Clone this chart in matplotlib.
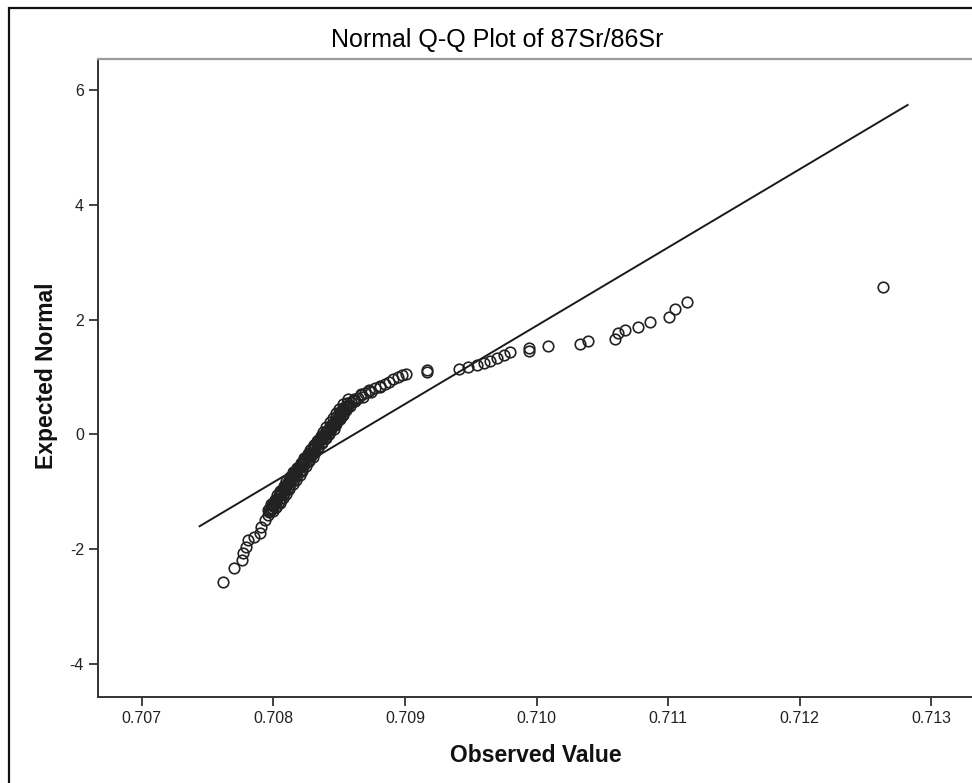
import numpy as np
import matplotlib
matplotlib.use("Agg")
import matplotlib.pyplot as plt
from matplotlib.patches import Rectangle

plt.rcParams['font.family'] = ['Liberation Sans', 'DejaVu Sans']
plt.rcParams['axes.unicode_minus'] = False

# observed 87Sr/86Sr values and their expected normal scores
obs_low = [0.70762, 0.70770, 0.70776, 0.70777, 0.70779, 0.70781, 0.70785,
           0.70790, 0.70791, 0.70794, 0.70796]
exp_low = [-2.57, -2.32, -2.19, -2.07, -1.96, -1.84, -1.78,
           -1.72, -1.61, -1.49, -1.40]

obs_mid = [0.70797, 0.70798, 0.70799, 0.70800, 0.70801, 0.70802, 0.70803,
           0.70804, 0.70805, 0.70806, 0.70808, 0.70809, 0.70810, 0.70811,
           0.70813, 0.70814, 0.70815, 0.70816, 0.70818, 0.70819, 0.70820,
           0.70822, 0.70823, 0.70824, 0.70826, 0.70827, 0.70828, 0.70830,
           0.70831, 0.70832, 0.70834, 0.70835, 0.70837, 0.70838, 0.70839,
           0.70841, 0.70843, 0.70844, 0.70845, 0.70847, 0.70848, 0.70849,
           0.70850, 0.70851, 0.70852, 0.70854, 0.70855, 0.70857, 0.70859,
           0.70861, 0.70864, 0.70867, 0.70870, 0.70873, 0.70877, 0.70881,
           0.70885, 0.70888, 0.70891, 0.70895, 0.70898, 0.70901]
exp_mid = [-1.36, -1.32, -1.28, -1.24, -1.20, -1.16, -1.12,
           -1.08, -1.04, -1.00, -0.96, -0.92, -0.88, -0.84,
           -0.80, -0.76, -0.72, -0.68, -0.64, -0.60, -0.56,
           -0.52, -0.48, -0.44, -0.40, -0.36, -0.32, -0.28,
           -0.24, -0.20, -0.16, -0.12, -0.08, -0.04, 0.00,
           0.04, 0.08, 0.12, 0.16, 0.20, 0.24, 0.28,
           0.32, 0.36, 0.40, 0.44, 0.48, 0.52, 0.56,
           0.60, 0.64, 0.68, 0.72, 0.76, 0.80, 0.84,
           0.88, 0.92, 0.96, 1.00, 1.03, 1.06]

# more rows of the dense band (points crowd side by side)
obs_mid2 = [0.70800, 0.70797, 0.70802, 0.70798, 0.70804, 0.70801, 0.70806,
            0.70803, 0.70808, 0.70805, 0.70811, 0.70808, 0.70813, 0.70810,
            0.70816, 0.70813, 0.70818, 0.70815, 0.70821, 0.70818, 0.70823,
            0.70821, 0.70826, 0.70823, 0.70829, 0.70826, 0.70831, 0.70829,
            0.70834, 0.70831, 0.70837, 0.70834, 0.70840, 0.70837, 0.70842,
            0.70840, 0.70846, 0.70843, 0.70848, 0.70846, 0.70851, 0.70848,
            0.70853, 0.70850, 0.70855, 0.70853, 0.70858, 0.70856, 0.70862,
            0.70861, 0.70868, 0.70867, 0.70874, 0.70873, 0.70881]
exp_mid2 = [-1.34, -1.30, -1.26, -1.22, -1.18, -1.14, -1.10,
            -1.06, -1.02, -0.98, -0.94, -0.90, -0.86, -0.82,
            -0.78, -0.74, -0.70, -0.66, -0.62, -0.58, -0.54,
            -0.50, -0.46, -0.42, -0.38, -0.34, -0.30, -0.26,
            -0.22, -0.18, -0.14, -0.10, -0.06, -0.02, 0.02,
            0.06, 0.10, 0.14, 0.18, 0.22, 0.26, 0.30,
            0.34, 0.38, 0.42, 0.46, 0.50, 0.54, 0.58,
            0.62, 0.66, 0.70, 0.74, 0.78, 0.82]

obs_mid3 = [0.70796, 0.70802, 0.70799, 0.70805, 0.70801, 0.70807, 0.70804,
            0.70810, 0.70806, 0.70812, 0.70808, 0.70815, 0.70811, 0.70817,
            0.70813, 0.70820, 0.70816, 0.70822, 0.70818, 0.70825, 0.70821,
            0.70827, 0.70823, 0.70830, 0.70826, 0.70832, 0.70828, 0.70834,
            0.70831, 0.70837, 0.70833, 0.70839, 0.70836, 0.70842, 0.70838,
            0.70844, 0.70840, 0.70847, 0.70843, 0.70849, 0.70845, 0.70852,
            0.70848, 0.70854, 0.70850, 0.70857, 0.70853, 0.70859, 0.70857]
exp_mid3 = [-1.31, -1.27, -1.23, -1.19, -1.15, -1.11, -1.07,
            -1.03, -0.99, -0.95, -0.91, -0.87, -0.83, -0.79,
            -0.75, -0.71, -0.67, -0.63, -0.59, -0.55, -0.51,
            -0.47, -0.43, -0.39, -0.35, -0.31, -0.27, -0.23,
            -0.19, -0.15, -0.11, -0.07, -0.03, 0.01, 0.05,
            0.09, 0.13, 0.17, 0.21, 0.25, 0.29, 0.33,
            0.37, 0.41, 0.45, 0.49, 0.53, 0.57, 0.61]

obs_high = [0.70917, 0.70917, 0.70941, 0.70948, 0.70955, 0.70960, 0.70965,
            0.70970, 0.70975, 0.70980, 0.70994, 0.70994, 0.71009, 0.71033,
            0.71039, 0.71060, 0.71062, 0.71067, 0.71077, 0.71086, 0.71101,
            0.71105, 0.71114, 0.71263]
exp_high = [1.09, 1.12, 1.14, 1.18, 1.21, 1.24, 1.27,
            1.33, 1.38, 1.43, 1.45, 1.50, 1.54, 1.575,
            1.63, 1.67, 1.76, 1.81, 1.87, 1.95, 2.04,
            2.18, 2.31, 2.56]

# reference line: mean and sd of the sample
sr_mean = 0.708613
sr_sd = 0.000733
line_x = [0.70744, 0.71282]

x = np.array(obs_low + obs_mid + obs_mid2 + obs_mid3 + obs_high)
y = np.array(exp_low + exp_mid + exp_mid2 + exp_mid3 + exp_high)

W, H = 972, 783
fig = plt.figure(figsize=(W / 100, H / 100), dpi=100)
ax = fig.add_axes([98 / W, (H - 696.7) / H, (W - 98) / W, (696.7 - 59) / H])

lx = np.array(line_x)
ax.plot(lx, (lx - sr_mean) / sr_sd, color='#1a1a1a', lw=1.4, zorder=2)
ax.plot(x, y, 'o', mfc='none', mec='#222222', ms=7.6, mew=1.2, zorder=3)

ax.set_xlim(0.706668, 0.713309)
ax.set_ylim(-4.57, 6.54)
ax.set_xticks([0.707, 0.708, 0.709, 0.710, 0.711, 0.712, 0.713])
ax.set_xticklabels(['0.707', '0.708', '0.709', '0.710', '0.711', '0.712', '0.713'])
ax.set_yticks([-4, -2, 0, 2, 4, 6])
ax.tick_params(axis='both', length=6.5, width=1.3, color='#333333',
               labelsize=11.5, labelcolor='#222222')
ax.tick_params(axis='x', pad=3.5)
ax.tick_params(axis='y', pad=3.5)

ax.spines['right'].set_visible(False)
ax.spines['top'].set_color('#9a9a9a')
ax.spines['top'].set_linewidth(1.6)
for s in ['left', 'bottom']:
    ax.spines[s].set_color('#333333')
    ax.spines[s].set_linewidth(1.4)

fig.text(497.5 / W, 1 - 40 / H, 'Normal Q-Q Plot of 87Sr/86Sr',
         ha='center', va='center', fontsize=18, color='#000000')
fig.text(535.5 / W, 1 - 755 / H, 'Observed Value', ha='center', va='center',
         fontsize=16.5, fontweight='bold', color='#111111')
fig.text(46 / W, 1 - 376 / H, 'Expected Normal', ha='center', va='center',
         rotation=90, fontsize=16.5, fontweight='bold', color='#111111')

# outer chart frame (cut off at right and bottom like the source)
fig.add_artist(Rectangle((9 / W, -0.1), 1.2, (H - 8) / H + 0.1,
                         transform=fig.transFigure, fill=False,
                         lw=1.6, ec='#111111'))

fig.savefig('out.png', dpi=100)
